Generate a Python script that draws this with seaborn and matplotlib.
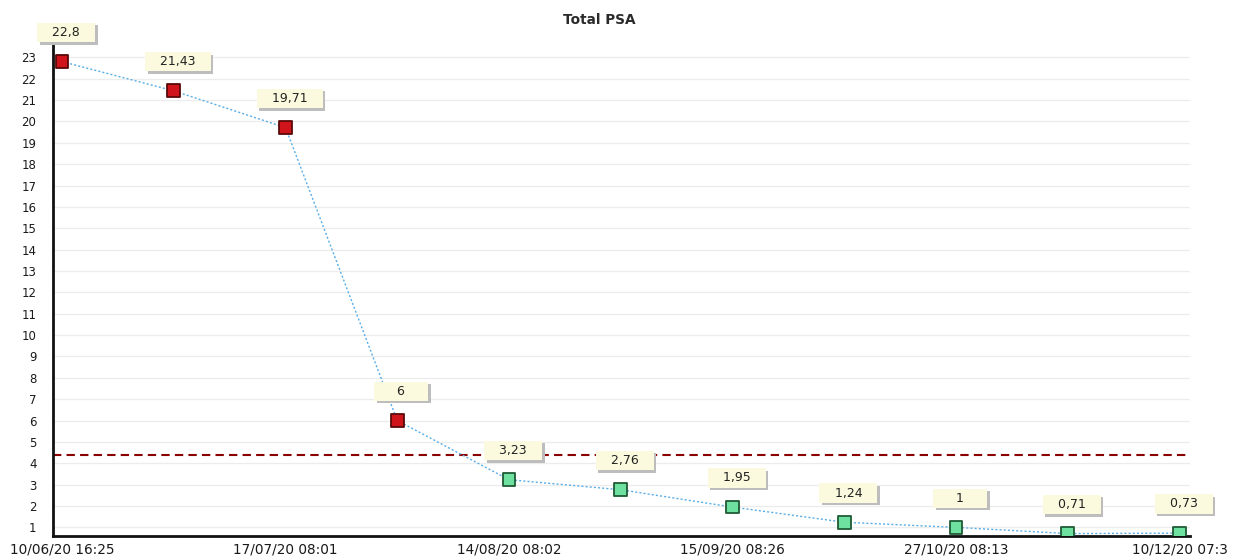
import matplotlib
matplotlib.use("Agg")
import matplotlib.pyplot as plt
import matplotlib.patheffects as pe
import seaborn as sns
import pandas as pd
import numpy as np
from matplotlib.ticker import MultipleLocator, FixedLocator

# ---- data ----
tick_labels = ["10/06/20 16:25", "17/07/20 08:01", "14/08/20 08:02",
               "15/09/20 08:26", "27/10/20 08:13", "10/12/20 07:3"]
psa_values = [22.8, 21.43, 19.71, 6, 3.23, 2.76, 1.95, 1.24, 1, 0.71, 0.73]
value_labels = ["22,8", "21,43", "19,71", "6", "3,23", "2,76", "1,95", "1,24", "1", "0,71", "0,73"]
status = ["high", "high", "high", "high", "ok", "ok", "ok", "ok", "ok", "ok", "ok"]
threshold = 4.4

df = pd.DataFrame({"idx": np.arange(len(psa_values)), "psa": psa_values, "status": status})

sns.set_theme(style="white")
plt.rcParams['font.family'] = ['DejaVu Sans']

fig = plt.figure(figsize=(12.34, 5.6), dpi=100)
ax = fig.add_axes([0.043, 0.043, 0.921, 0.889])

sns.lineplot(data=df, x="idx", y="psa", ax=ax, color="#5aaee8", linewidth=1.0,
             linestyle=(0, (1.5, 1.5)), zorder=2)
sns.scatterplot(data=df, x="idx", y="psa", hue="status", ax=ax,
                palette={"high": "#d0141c", "ok": "#6ee0a0"}, marker="s", s=85,
                edgecolor=None, legend=False, zorder=3)
coll = ax.collections[-1]
edge_map = {"high": "#5a0a0a", "ok": "#1f5a35"}
coll.set_edgecolors([edge_map[s] for s in status])
coll.set_linewidths(1.3)

ax.axhline(threshold, color="#8b0000", linewidth=1.5, linestyle=(0, (4, 2.5)), zorder=1)

ax.set_xlim(-0.08, 10.09)
ax.set_ylim(0.6, 23.9)
ax.yaxis.set_major_locator(FixedLocator(list(range(1, 24))))
ax.yaxis.set_minor_locator(MultipleLocator(0.2))
ax.xaxis.set_major_locator(FixedLocator([0, 2, 4, 6, 8, 10]))
ax.xaxis.set_minor_locator(MultipleLocator(0.5))
ax.set_xticklabels(tick_labels)
ax.tick_params(axis="y", which="major", labelsize=8.5, length=3, color="#888888",
               labelcolor="#1a1a1a", direction="out", pad=9)
ax.tick_params(axis="x", which="major", labelsize=9.8, length=3, color="#888888",
               labelcolor="#1a1a1a", direction="out", pad=2)
ax.tick_params(axis="y", which="minor", length=2, color="#888888")
ax.tick_params(axis="x", which="minor", length=3, color="#aaaaaa")
ax.set_xlabel("")
ax.set_ylabel("")

ax.grid(axis="y", which="major", color="#ececec", linewidth=0.9)
ax.set_axisbelow(True)
for side in ["top", "right"]:
    ax.spines[side].set_visible(False)
for side in ["left", "bottom"]:
    ax.spines[side].set_color("#111111")
    ax.spines[side].set_linewidth(2)

for i, (v, lab) in enumerate(zip(psa_values, value_labels)):
    text = f"   {lab}   " if len(lab) > 2 else f"     {lab}     "
    t = ax.annotate(text, xy=(i, v), xytext=(3, 21), textcoords="offset points",
                    ha="center", va="center", fontsize=9, color="#222222",
                    bbox=dict(boxstyle="square,pad=0.25", fc="#fcfade", ec="none"), zorder=5)
    t.get_bbox_patch().set_path_effects([
        pe.SimplePatchShadow(offset=(1.8, -1.8), shadow_rgbFace="#bdbdbd", alpha=1.0),
        pe.Normal()])

fig.text(0.486, 0.965, "Total PSA", ha="center", va="center", fontsize=9.8,
         fontweight="bold", color="#2a2a2a")

fig.savefig("out.png", dpi=100)
